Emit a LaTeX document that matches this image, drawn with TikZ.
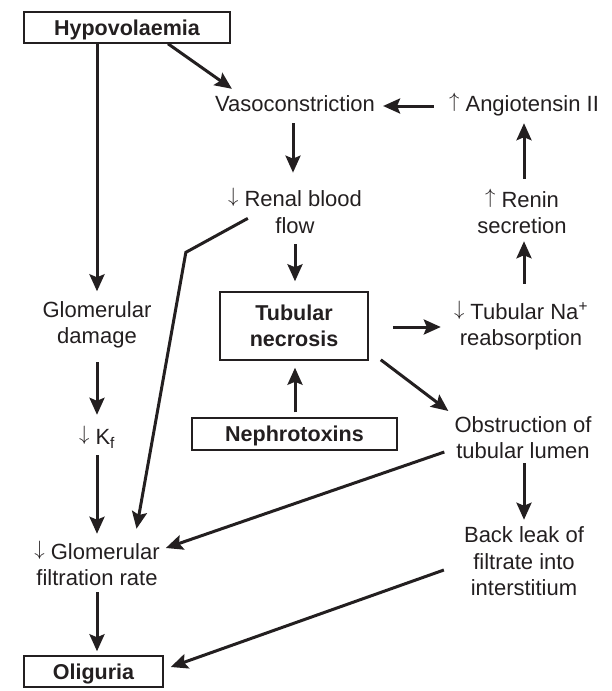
\documentclass[tikz,border=0pt]{standalone}
\usepackage{fontspec}
\setmainfont{Liberation Sans}
\usetikzlibrary{arrows.meta,calc}
\definecolor{ink}{HTML}{231F20}
\newcommand\myup{\raisebox{4pt}{$\uparrow$}}
\newcommand\mydn{\raisebox{4pt}{$\downarrow$}}
\tikzset{
  txt/.style={inner sep=0pt, align=center, text=ink, font=\fontsize{22}{26.5}\selectfont, text height=20pt, text depth=5pt},
  mtxt/.style={inner sep=0pt, align=center, text=ink, font=\fontsize{22}{26.5}\selectfont},
  bbox/.style={draw=ink, line width=1.5pt, inner sep=0pt, align=center, text=ink, font=\fontsize{21.5}{26.5}\selectfont\bfseries},
  arr/.style={draw=ink, line width=3pt, -{Stealth[length=17pt,width=15pt,inset=3pt]}},
}
\begin{document}
\begin{tikzpicture}[x=1pt,y=-1pt]
\useasboundingbox (0,0) rectangle (612,691);
% nodes
\node[bbox, minimum width=206pt, minimum height=31pt, text height=20pt, text depth=5pt] (hypo) at (127,27.5) {Hypovolaemia};
\node[txt] (vaso) at (295,104) {Vasoconstriction};
\node[txt] (ang) at (524,104) {\myup{} Angiotensin II};
\node[mtxt] (renin) at (522,211.5) {\myup{} Renin\\secretion};
\node[mtxt] (renal) at (295,211) {\mydn{} Renal blood\\flow};
\node[bbox, minimum width=148pt, minimum height=68pt] (tub) at (294,326) {Tubular\\necrosis};
\node[mtxt] (na) at (521,325.5) {\mydn{} Tubular Na\textsuperscript{+}\\reabsorption};
\node[mtxt] (obs) at (523,437.5) {Obstruction of\\tubular lumen};
\node[bbox, minimum width=205pt, minimum height=32pt, text height=20pt, text depth=5pt] (neph) at (294.5,434) {Nephrotoxins};
\node[mtxt] (back) at (524,561.5) {Back leak of\\filtrate into\\interstitium};
\node[mtxt] (glom) at (97,325) {Glomerular\\damage};
\node[txt] (kf) at (97,437) {\mydn{} K\textsubscript{f}};
\node[mtxt] (gfr) at (97,563.5) {\mydn{} Glomerular\\filtration rate};
\node[bbox, minimum width=139pt, minimum height=31pt, text height=20pt, text depth=5pt] (olig) at (93.5,671.5) {Oliguria};
% connectors
\draw[arr] (hypo.south -| glom.north) -- ($(glom.north)+(0,-10)$);
\draw[arr] ($(hypo.south)+(41,0)$) -- ($(vaso.north west)+(17,-2.5)$);
\draw[arr] ($(vaso.south)+(-2,6.5)$) -- ($(renal.north)+(-2,-15.6)$);
\draw[arr] ($(ang.west)+(-15,2)$) -- ($(vaso.east)+(8,2)$);
\draw[arr] ($(renin.north)+(2,-10)$) -- ($(ang.south)+(0,6.5)$);
\draw[arr] ($(na.north)+(3,-17)$) -- ($(renin.south)+(2,7)$);
\draw[arr] ($(renal.south)+(0,10.6)$) -- ($(tub.north)+(1,-10)$);
\draw[arr] ($(neph.north)+(0.5,-5)$) -- ($(tub.south)+(1,7)$);
\draw[arr] ($(tub.east)+(24,1)$) -- ($(na.west)+(-13,1.5)$);
\draw[arr] ($(tub.south east)+(12,-1)$) -- ($(obs.north west)+(-6,-5)$);
\draw[arr] ($(obs.south)+(1,4)$) -- ($(back.north)+(0,-7)$);
\draw[arr] ($(obs.west)+(-10,14.5)$) -- ($(gfr.east)+(6,-15.5)$);
\draw[arr] ($(back.west)+(-20,8.5)$) -- ($(olig.east)+(7,-4.5)$);
\draw[arr] ($(renal.south west)+(20,-15.4)$) -- ($(renal.south west)+(-42,18.6)$) -- ($(gfr.north)+(39.5,-12)$);
\draw[arr] ($(glom.south)+(0,13.6)$) -- ($(kf.north)+(0,-9.5)$);
\draw[arr] ($(kf.south)+(0,5.5)$) -- ($(gfr.north)+(0,-7)$);
\draw[arr] ($(gfr.south)+(0,6)$) -- ($(olig.north)+(3.5,-4)$);
\end{tikzpicture}
\end{document}
